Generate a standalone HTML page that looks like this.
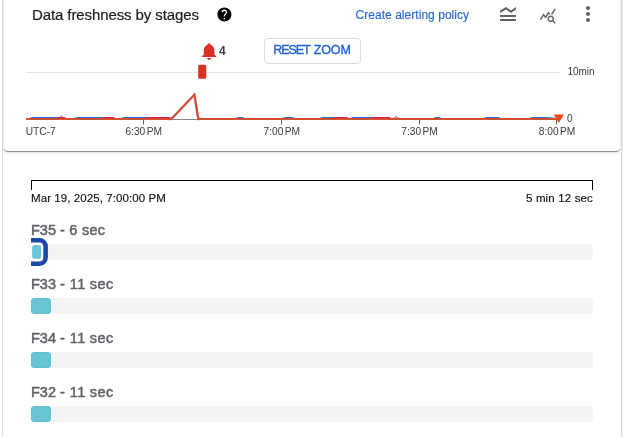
<!DOCTYPE html>
<html>
<head>
<meta charset="utf-8">
<style>
html,body{margin:0;padding:0;}
body{width:623px;height:437px;overflow:hidden;background:#fff;font-family:"Liberation Sans",sans-serif;position:relative;color:#202124;}
.abs{position:absolute;white-space:nowrap;}
#outer{position:absolute;left:2px;top:-10px;width:618px;height:460px;border-left:1px solid #dcdee2;border-right:1px solid #dcdcdc;box-shadow:1px 0 0 #efefef;}
#card{position:absolute;left:4px;top:-10px;width:616px;height:161px;background:#fff;border-radius:0 0 4px 4px;box-shadow:0 1px 1px rgba(0,0,0,.42),0 2px 3px rgba(0,0,0,.10);}
#title{left:32px;top:5px;font-size:15px;line-height:20px;letter-spacing:-0.1px;color:#1a1c1f;-webkit-text-stroke:0.2px #1a1c1f;}
#alert{left:355.500px;top:8px;font-size:12px;letter-spacing:0.04px;line-height:14px;color:#2a66d8;-webkit-text-stroke:0.15px #2a66d8;}
.axis{font-size:10.2px;line-height:11px;color:#3c4043;word-spacing:-1.4px;}
#reset{position:absolute;left:264px;top:38px;width:97px;height:26px;border:1px solid #dadce0;border-radius:4px;box-sizing:border-box;background:#fff;color:#1f63d6;font-size:12.5px;letter-spacing:-0.5px;-webkit-text-stroke:0.35px #1f63d6;line-height:22px;word-spacing:1px;text-align:center;}
.lbl{font-size:14.5px;line-height:16px;color:#5f6368;-webkit-text-stroke:0.5px #5f6368;left:31px;}
.track{position:absolute;left:31px;width:562px;height:16px;background:#f1f3f4;border-radius:4px;}
.lbl i{font-style:normal;}
.bar{position:absolute;left:31px;width:20px;height:16px;background:#69c5d5;border-radius:4px;box-shadow:inset 0 0 0 1px #5fc0d1,1px 0 0 #fafafa;}
</style>
</head>
<body>
<div id="root" style="position:absolute;left:0;top:0;width:623px;height:437px;will-change:transform;">
<div id="outer"></div>
<div id="card"></div>

<div class="abs" id="title">Data freshness by stages</div>
<svg class="abs" style="left:215.600px;top:5.550px" width="16.800" height="16.800" viewBox="0 0 24 24"><path fill="#000" d="M12 2C6.48 2 2 6.48 2 12s4.48 10 10 10 10-4.480 10-10S17.520 2 12 2zm1 17h-2v-2h2v2zm2.070-7.750l-.9.920C13.450 12.900 13 13.500 13 15h-2v-.5c0-1.100.450-2.100 1.170-2.830l1.240-1.260c.370-.360.590-.860.590-1.410 0-1.100-.9-2-2-2s-2 .9-2 2H8c0-2.210 1.790-4 4-4s4 1.790 4 4c0 .880-.360 1.680-.930 2.250z"/></svg>
<div class="abs" id="alert">Create alerting policy</div>

<!-- toolbar icons -->
<svg class="abs" style="left:496px;top:2px" width="24" height="24" viewBox="0 0 24 24"><path fill="#5f6368" d="M20 15H4v-2h16v2zm0 2H4v2h16v-2zm-5-6l5-3.550V5l-5 3.550L10 5 4 8.660V11l5.920-3.610L15 11z"/></svg>
<svg class="abs" style="left:539.300px;top:6.500px" width="17.500" height="17.500" viewBox="0 0 24 24"><path fill="#5f6368" d="M19.880 18.470c.440-.700.700-1.510.700-2.390 0-2.490-2.010-4.500-4.500-4.500s-4.500 2.010-4.500 4.500 2.010 4.500 4.490 4.500c.880 0 1.700-.260 2.390-.700L21.580 23 23 21.580l-3.120-3.110zm-3.800.110c-1.380 0-2.500-1.120-2.500-2.500s1.120-2.500 2.500-2.500 2.500 1.120 2.500 2.500-1.120 2.500-2.500 2.500zm-.360-8.500c-.740.020-1.450.180-2.100.450l-.550-.830-3.800 6.180-3.010-3.520-3.630 5.810L1 17l5-8 3 3.500L13 6l2.720 4.080zm2.590.5c-.640-.280-1.330-.450-2.050-.490L21.380 2 23 3.180l-4.690 7.400z"/></svg>
<svg class="abs" style="left:576px;top:2px" width="24" height="24" viewBox="0 0 24 24"><path fill="#5f6368" d="M12 8c1.100 0 2-.9 2-2s-.9-2-2-2-2 .9-2 2 .9 2 2 2zm0 2c-1.100 0-2 .9-2 2s.9 2 2 2 2-.9 2-2-.9-2-2-2zm0 6c-1.100 0-2 .9-2 2s.9 2 2 2 2-.9 2-2-.9-2-2-2z"/></svg>

<!-- chart -->
<svg class="abs" style="left:0;top:30px" width="623" height="115" viewBox="0 30 623 115">
  <line x1="26" y1="72.500" x2="560" y2="72.500" stroke="#e3e5e8" stroke-width="1"/>
  <line x1="26" y1="119.500" x2="560" y2="119.500" stroke="#80868b" stroke-width="1"/>
  <g stroke="#5f6368" stroke-width="1">
    <line x1="143.500" y1="119" x2="143.500" y2="124.500"/>
    <line x1="281.500" y1="119" x2="281.500" y2="124.500"/>
    <line x1="419.500" y1="119" x2="419.500" y2="124.500"/>
    <line x1="556.500" y1="119" x2="556.500" y2="124.500"/>
  </g>
  <!-- blue segments -->
  <g stroke="#1a73e8" stroke-width="1.050" fill="none" stroke-linecap="round">
    <path d="M30 118.200 L32.500 117.600 L58 117.600"/>
    <path d="M74.500 118.200 L77 117.600 L103 117.600"/>
    <path d="M121.500 118.200 L124 117.600 L146.500 117.600"/>
    <path d="M236 118.200 L238.500 117.600 L242 117.600 L244.500 118.200"/>
    <path d="M282.500 118.200 L285 117.600 L292 117.600 L294.500 118.200"/>
    <path d="M320 118.200 L322.500 117.600 L334 117.600"/>
    <path d="M351 118.200 L353 117.600 L371 117.600"/>
    <path d="M434 118.200 L436 117.600 L439 117.600 L441 118.200"/>
    <path d="M484 118.200 L486.500 117.600 L498 117.600 L500.500 118.200"/>
    <path d="M530 118.200 L532.500 117.600 L546 117.600 L555 118.200"/>
  </g>
  <g stroke="#d81b60" stroke-width="1.050" fill="none" stroke-linecap="round">
    <path d="M58 117.600 L60.700 117.400 L61.300 116.500 L61.900 117.400 L64 117.600 L66 118.200"/>
    <path d="M103 117.600 L113 117.600 L115 118.200"/>
    <path d="M146.500 117.600 L170 117.600"/>
    <path d="M334 117.600 L346.500 117.600 L348.500 118.200"/>
    <path d="M371 117.600 L389 117.600 L391 118.200"/>
  </g>
  <path d="M393 118.300 L395.500 117.600 L396.300 116.200 L397.100 117.600 L399.500 118.300" stroke="#b0705a" stroke-width="1" fill="none"/>
  <path d="M168 118.900 L171.500 118.900 L194.400 94.700 L198.300 118.900 L201 118.900" stroke="#5c6bc0" stroke-width="2.600" fill="none" opacity="0.550"/>
  <path d="M26 118.900 L171.500 118.900 L194.400 94.700 L198.300 118.900 L556 118.900" stroke="#e0471f" stroke-width="1.900" fill="none" stroke-linejoin="miter"/>
  <!-- red alert rect -->
  <rect x="198.200" y="64.800" width="8" height="14" rx="1.500" fill="#d93025"/>
  <!-- bell -->
  <path fill="#d93025" d="M209.100 43.500 C210.100 43.500 210.700 44 210.900 44.900 C213.300 45.700 214.400 47.900 214.400 50.600 L214.400 54.600 L216.300 56.300 L216.300 57.100 L201.900 57.100 L201.900 56.300 L203.800 54.600 L203.800 50.600 C203.800 47.900 204.900 45.700 207.300 44.900 C207.500 44 208.100 43.500 209.100 43.500 Z M207.100 58.100 L211.100 58.100 C211.100 59.300 210.200 60.100 209.100 60.100 C208 60.100 207.100 59.300 207.100 58.100 Z"/>
  <!-- marker -->
  <path d="M553.700 114.500 L563.900 114.500 L558.800 122.900 Z" fill="#e64a19"/>
</svg>
<div class="abs" style="left:219px;top:45px;font-size:12px;line-height:13px;font-weight:bold;color:#3c4043;">4</div>
<div id="reset"><span><i style="font-style:normal;letter-spacing:-1.05px;margin-left:-1px">RESET</i> <i style="font-style:normal;letter-spacing:-0.1px">ZOOM</i></span></div>

<div class="abs axis" style="left:567.5px;top:66px;font-size:10px;letter-spacing:-0.05px;">10min</div>
<div class="abs axis" style="left:567px;top:113px;font-size:10px;">0</div>
<div class="abs axis" style="left:25.7px;top:126px;letter-spacing:0.02px;">UTC-7</div>
<div class="abs axis" style="left:125.4px;top:126px;">6:30 PM</div>
<div class="abs axis" style="left:263.5px;top:126px;">7:00 PM</div>
<div class="abs axis" style="left:401.3px;top:126px;">7:30 PM</div>
<div class="abs axis" style="left:538.8px;top:126px;">8:00 PM</div>

<!-- scale -->
<div style="position:absolute;left:31px;top:180px;width:560px;height:9px;border:1px solid #000;border-bottom:none;box-sizing:content-box;"></div>
<div class="abs" style="left:31px;top:191px;font-size:11.5px;letter-spacing:0.08px;line-height:14px;color:#111;-webkit-text-stroke:0.15px #111;">Mar 19, 2025, 7:00:00 PM</div>
<div class="abs" style="right:30px;top:191px;font-size:11.5px;letter-spacing:0.15px;line-height:14px;color:#111;-webkit-text-stroke:0.15px #111;">5 min 12 sec</div>

<!-- rows -->
<div class="abs lbl" style="top:222px;">F35 - <i style="margin-left:.4px">6</i> <i style="margin-left:.5px;letter-spacing:.3px">sec</i></div>
<div class="track" style="top:244px;"></div>
<svg class="abs" style="left:31px;top:232px" width="24" height="40" viewBox="31 232 24 40">
  <rect x="18" y="240.300" width="27.600" height="23.400" rx="6.200" fill="#fff" stroke="#1a47a8" stroke-width="4.600"/>
  <rect x="32.100" y="244.900" width="9" height="13.800" rx="2.800" fill="#69c5d5"/>
</svg>

<div class="abs lbl" style="top:276px;">F33 - <i style="margin-left:.8px;letter-spacing:.5px">11</i> <i style="letter-spacing:.45px">sec</i></div>
<div class="track" style="top:298px;"></div>
<div class="bar" style="top:298px;"></div>

<div class="abs lbl" style="top:330px;">F34 - <i style="margin-left:.8px;letter-spacing:.5px">11</i> <i style="letter-spacing:.45px">sec</i></div>
<div class="track" style="top:352px;"></div>
<div class="bar" style="top:352px;"></div>

<div class="abs lbl" style="top:384px;">F32 - <i style="margin-left:.8px;letter-spacing:.5px">11</i> <i style="letter-spacing:.45px">sec</i></div>
<div class="track" style="top:406px;"></div>
<div class="bar" style="top:406px;"></div>

</div>
</body>
</html>
